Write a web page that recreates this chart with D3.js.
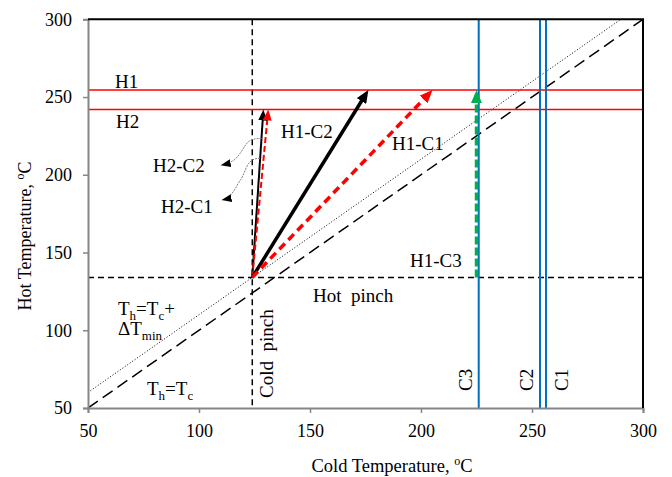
<!DOCTYPE html>
<html>
<head>
<meta charset="utf-8">
<script src="https://cdn.jsdelivr.net/npm/d3@7"></script>
<style>
  body { margin: 0; background: #fff; }
  text { font-family: "Liberation Serif", "Times New Roman", serif; fill: #000; }
</style>
</head>
<body>
<div id="plot"></div>
<script>
// chart values (temperatures in oC)
const ticks = [50, 100, 150, 200, 250, 300];
const hotStreams = ["H1", "H2"];
const hotTemps = [254.5, 242];
const coldStreams = ["C3", "C2", "C1"];
const coldTemps = [226, 253.6, 256.3];
const coldPinch = 124;
const hotPinch = 134;
const dTmin = 10;

// matches: start at the pinch point, end on the hot stream line
const matchNames = ["H2-C2", "H2-C1", "H1-C2", "H1-C1", "H1-C3"];
const matchStartX = [124, 124, 124, 124, 225];
const matchEndX = [129, 131.2, 176.3, 205.2, 225];
const matchEndY = [242, 242, 254.5, 254.5, 254.5];

// curly pointer arrows from the small matches to their labels
const pointerFrom = [[128.2, 223.4], [127.5, 210.6]];
const pointerTo = [[109.8, 206.2], [110.2, 183.7]];

const w = 672;
const h = 477;
const margin = {top: 19.3, right: 29, bottom: 69, left: 88};
const innerWidth = w - margin.left - margin.right;
const innerHeight = h - margin.top - margin.bottom;

const svg = d3.select("div#plot")
  .append("svg")
    .attr("width", w)
    .attr("height", h);

const g = svg.append("g")
  .attr("transform", `translate(${margin.left}, ${margin.top})`);

const xScale = d3.scaleLinear().domain([50, 300]).range([0, innerWidth]);
const yScale = d3.scaleLinear().domain([50, 300]).range([innerHeight, 0]);

// arrowhead markers
const defs = svg.append("defs");
function marker(id, color, len, wid) {
  defs.append("marker")
    .attr("id", id)
    .attr("markerUnits", "userSpaceOnUse")
    .attr("viewBox", `0 0 ${len} ${wid}`)
    .attr("markerWidth", len)
    .attr("markerHeight", wid)
    .attr("refX", len)
    .attr("refY", wid / 2)
    .attr("orient", "auto")
    .append("path")
      .attr("d", `M0,0 L${len},${wid / 2} L0,${wid} z`)
      .attr("fill", color);
}
marker("headBlackBig", "#000", 13, 11);
marker("headRedBig", "#ff0000", 13, 11);
marker("headGreenBig", "#00b050", 13, 11);
marker("headBlackSmall", "#000", 11, 9);
marker("headRedSmall", "#ff0000", 11, 9);
marker("headPointer", "#000", 10, 8);

// clip for plot area lines
defs.append("clipPath").attr("id", "clip")
  .append("rect").attr("width", innerWidth).attr("height", innerHeight);

const plot = g.append("g").attr("clip-path", "url(#clip)");

// Th = Tc (long dash) and Th = Tc + dTmin (dotted)
plot.append("line")
  .attr("x1", xScale(50)).attr("y1", yScale(50))
  .attr("x2", xScale(300)).attr("y2", yScale(300))
  .attr("stroke", "#000").attr("stroke-width", 1.5)
  .attr("stroke-dasharray", "12,6");

plot.append("line")
  .attr("x1", xScale(50)).attr("y1", yScale(50 + dTmin))
  .attr("x2", xScale(300 - dTmin)).attr("y2", yScale(300))
  .attr("stroke", "#000").attr("stroke-width", 1)
  .attr("stroke-dasharray", "1,2");

// pinch lines
plot.append("line")
  .attr("x1", xScale(coldPinch)).attr("x2", xScale(coldPinch))
  .attr("y1", 0).attr("y2", innerHeight)
  .attr("stroke", "#000").attr("stroke-width", 1.5)
  .attr("stroke-dasharray", "6,4");

plot.append("line")
  .attr("x1", 0).attr("x2", innerWidth)
  .attr("y1", yScale(hotPinch)).attr("y2", yScale(hotPinch))
  .attr("stroke", "#000").attr("stroke-width", 1.5)
  .attr("stroke-dasharray", "6,4");

// hot streams
plot.selectAll("line.hot")
  .data(hotTemps)
  .enter()
  .append("line")
    .attr("class", "hot")
    .attr("x1", 0).attr("x2", innerWidth)
    .attr("y1", d => yScale(d)).attr("y2", d => yScale(d))
    .attr("stroke", "#ff0000").attr("stroke-width", 1.5);

// cold streams
plot.selectAll("line.cold")
  .data(coldTemps)
  .enter()
  .append("line")
    .attr("class", "cold")
    .attr("x1", d => xScale(d)).attr("x2", d => xScale(d))
    .attr("y1", 0).attr("y2", innerHeight)
    .attr("stroke", "#0070c0").attr("stroke-width", 2);

// match arrows
const matchStyle = {
  "H2-C2": {color: "#000", width: 2, dash: null, head: "headBlackSmall", len: 11},
  "H2-C1": {color: "#ff0000", width: 2, dash: "6,3", head: "headRedSmall", len: 11},
  "H1-C2": {color: "#000", width: 3.5, dash: null, head: "headBlackBig", len: 13},
  "H1-C1": {color: "#ff0000", width: 3.5, dash: "8,5", head: "headRedBig", len: 13},
  "H1-C3": {color: "#00b050", width: 3.5, dash: "8,3", head: "headGreenBig", len: 13}
};

const matches = matchNames.map((name, i) => ({
  name: name,
  x1: xScale(matchStartX[i]), y1: yScale(hotPinch),
  x2: xScale(matchEndX[i]), y2: yScale(matchEndY[i])
}));

g.selectAll("line.match")
  .data(matches)
  .enter()
  .append("line")
    .attr("class", "match")
    .attr("x1", d => d.x1)
    .attr("y1", d => d.y1)
    .attr("x2", d => {
      const s = matchStyle[d.name];
      const L = Math.hypot(d.x2 - d.x1, d.y2 - d.y1);
      return d.x2 - (d.x2 - d.x1) / L * (s.len - 3);
    })
    .attr("y2", d => {
      const s = matchStyle[d.name];
      const L = Math.hypot(d.x2 - d.x1, d.y2 - d.y1);
      return d.y2 - (d.y2 - d.y1) / L * (s.len - 3);
    })
    .attr("stroke", d => matchStyle[d.name].color)
    .attr("stroke-width", d => matchStyle[d.name].width)
    .attr("stroke-dasharray", d => matchStyle[d.name].dash);

g.selectAll("line.head")
  .data(matches)
  .enter()
  .append("line")
    .attr("class", "head")
    .attr("x1", d => d.x1 + (d.x2 - d.x1) * 0.99)
    .attr("y1", d => d.y1 + (d.y2 - d.y1) * 0.99)
    .attr("x2", d => d.x2)
    .attr("y2", d => d.y2)
    .attr("stroke", "none")
    .attr("marker-end", d => `url(#${matchStyle[d.name].head})`);

// curly pointers
pointerFrom.forEach((p, i) => {
  const sx = xScale(p[0]), sy = yScale(p[1]);
  const ex = xScale(pointerTo[i][0]), ey = yScale(pointerTo[i][1]);
  const mx = (sx + ex) / 2, my = (sy + ey) / 2;
  const path = d3.path();
  path.moveTo(sx, sy);
  path.bezierCurveTo(sx - 14, sy, mx + 6, my - 9, mx, my);
  path.bezierCurveTo(mx - 6, my + 9, ex + 10, ey - 2, ex, ey);
  g.append("path")
    .attr("d", path.toString())
    .attr("fill", "none")
    .attr("stroke", "#7f7f7f")
    .attr("stroke-width", 1)
    .attr("stroke-dasharray", "2,1")
    .attr("marker-end", "url(#headPointer)");
});

// axes
const xAxis = d3.axisBottom(xScale).tickValues(ticks).tickSize(5).tickPadding(11);
const yAxis = d3.axisLeft(yScale).tickValues(ticks).tickSize(5).tickPadding(11);

const xg = g.append("g")
  .attr("transform", `translate(0, ${innerHeight})`)
  .call(xAxis);
const yg = g.append("g").call(yAxis);

[xg, yg].forEach(a => {
  a.select(".domain").attr("stroke", "#868686").attr("stroke-width", 2);
  a.selectAll(".tick line").attr("stroke", "#868686").attr("stroke-width", 1.5);
  a.selectAll(".tick text")
    .style("font-family", "'Liberation Serif', 'Times New Roman', serif")
    .style("font-size", "18px")
    .attr("fill", "#000");
});

// top and right border
g.append("path")
  .attr("d", `M0,0 H${innerWidth} V${innerHeight}`)
  .attr("fill", "none")
  .attr("stroke", "#000")
  .attr("stroke-width", 2);

// axis titles
const xt = svg.append("text")
  .attr("x", 392)
  .attr("y", 472)
  .attr("text-anchor", "middle")
  .style("font-size", "18.5px");
xt.append("tspan").text("Cold Temperature, ");
xt.append("tspan").attr("dy", -7).style("font-size", "12px").text("o");
xt.append("tspan").attr("dy", 7).text("C");

const yt = svg.append("text")
  .attr("transform", `translate(31, 236) rotate(-90)`)
  .attr("text-anchor", "middle")
  .style("font-size", "18px");
yt.append("tspan").text("Hot Temperature, ");
yt.append("tspan").attr("dy", -7).style("font-size", "12px").text("o");
yt.append("tspan").attr("dy", 7).text("C");

// annotations
const fs = "19px";
function label(x, y, txt) {
  return svg.append("text")
    .attr("x", x).attr("y", y)
    .style("font-size", fs)
    .text(txt);
}
label(115, 88, hotStreams[0]);
label(116, 128, hotStreams[1]);
label(281, 138, matchNames[2]);
label(392, 150, matchNames[3]);
label(153, 172, matchNames[0]);
label(161, 213, matchNames[1]);
label(410, 267, matchNames[4]);
label(313, 302, "Hot\u00a0\u00a0pinch");

svg.append("text")
  .attr("transform", "translate(273, 398) rotate(-90)")
  .style("font-size", fs)
  .text("Cold\u00a0\u00a0pinch");

coldStreams.forEach((c, i) => {
  const off = c === "C1" ? 22 : -7;
  svg.append("text")
    .attr("transform", `translate(${margin.left + xScale(coldTemps[i]) + off}, 391) rotate(-90)`)
    .style("font-size", fs)
    .text(c);
});

// Th = Tc + dTmin
const t1 = svg.append("text").attr("x", 118).attr("y", 315).style("font-size", fs);
t1.append("tspan").text("T");
t1.append("tspan").attr("dy", 5).style("font-size", "13px").text("h");
t1.append("tspan").attr("dy", -5).text("=T");
t1.append("tspan").attr("dy", 5).style("font-size", "13px").text("c");
t1.append("tspan").attr("dy", -5).text("+");

const t2 = svg.append("text").attr("x", 118).attr("y", 335).style("font-size", fs);
t2.append("tspan").text("\u0394T");
t2.append("tspan").attr("dy", 5).style("font-size", "13px").text("min");

const t3 = svg.append("text").attr("x", 147).attr("y", 395).style("font-size", fs);
t3.append("tspan").text("T");
t3.append("tspan").attr("dy", 5).style("font-size", "13px").text("h");
t3.append("tspan").attr("dy", -5).text("=T");
t3.append("tspan").attr("dy", 5).style("font-size", "13px").text("c");
</script>
</body>
</html>
